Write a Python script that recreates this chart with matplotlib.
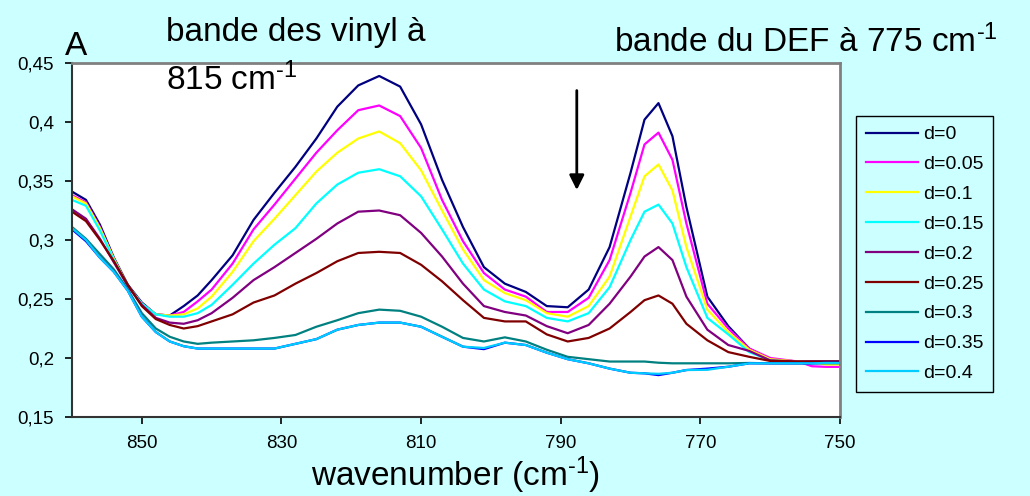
import matplotlib
matplotlib.use('Agg')
import matplotlib.pyplot as plt

plt.rcParams['font.family'] = ['Liberation Sans', 'DejaVu Sans']
plt.rcParams['mathtext.fontset'] = 'custom'
plt.rcParams['mathtext.rm'] = 'Liberation Sans'
plt.rcParams['mathtext.default'] = 'regular'

# wavenumber grid (cm-1)
wn = [860, 858, 856, 854, 852, 850, 848, 846, 844, 842, 840, 837, 834, 831, 828,
      825, 822, 819, 816, 813, 810, 807, 804, 801, 798, 795, 792, 789, 786, 783,
      780, 778, 776, 774, 772, 769, 766, 763, 760, 756, 754, 752, 750]

d_0 = [0.341, 0.334, 0.313, 0.285, 0.262, 0.247, 0.237, 0.236, 0.244, 0.253, 0.266, 0.287, 0.317, 0.340, 0.362,
       0.386, 0.413, 0.431, 0.439, 0.430, 0.398, 0.351, 0.311, 0.277, 0.263, 0.256, 0.244, 0.243, 0.258, 0.294,
       0.357, 0.402, 0.416, 0.388, 0.328, 0.252, 0.227, 0.208, 0.199, 0.197, 0.197, 0.197, 0.197]
d_005 = [0.338, 0.332, 0.311, 0.284, 0.261, 0.246, 0.237, 0.236, 0.239, 0.248, 0.258, 0.280, 0.309, 0.330, 0.352,
         0.374, 0.393, 0.410, 0.414, 0.405, 0.378, 0.334, 0.299, 0.272, 0.258, 0.252, 0.239, 0.239, 0.251, 0.283,
         0.340, 0.381, 0.391, 0.368, 0.314, 0.246, 0.225, 0.208, 0.200, 0.197, 0.193, 0.1925, 0.1925]
d_01 = [0.337, 0.331, 0.310, 0.284, 0.261, 0.246, 0.237, 0.236, 0.237, 0.242, 0.252, 0.273, 0.299, 0.318, 0.338,
        0.358, 0.374, 0.386, 0.392, 0.382, 0.359, 0.325, 0.292, 0.266, 0.255, 0.249, 0.238, 0.235, 0.244, 0.269,
        0.320, 0.354, 0.364, 0.342, 0.294, 0.241, 0.222, 0.207, 0.199, 0.197, 0.1965, 0.1945, 0.1945]
d_015 = [0.334, 0.329, 0.308, 0.283, 0.261, 0.246, 0.237, 0.235, 0.235, 0.238, 0.245, 0.262, 0.280, 0.296, 0.310,
         0.331, 0.347, 0.357, 0.360, 0.354, 0.337, 0.309, 0.280, 0.258, 0.248, 0.244, 0.234, 0.231, 0.238, 0.260,
         0.300, 0.324, 0.330, 0.314, 0.277, 0.234, 0.220, 0.205, 0.198, 0.1965, 0.196, 0.196, 0.196]
d_02 = [0.326, 0.318, 0.301, 0.281, 0.261, 0.245, 0.234, 0.230, 0.229, 0.232, 0.238, 0.251, 0.266, 0.277, 0.289,
        0.301, 0.314, 0.324, 0.325, 0.321, 0.306, 0.286, 0.263, 0.244, 0.239, 0.236, 0.227, 0.221, 0.228, 0.246,
        0.269, 0.286, 0.294, 0.283, 0.252, 0.224, 0.211, 0.206, 0.198, 0.197, 0.197, 0.197, 0.197]
d_025 = [0.324, 0.316, 0.300, 0.282, 0.262, 0.244, 0.233, 0.228, 0.225, 0.227, 0.231, 0.237, 0.247, 0.253, 0.263,
         0.272, 0.282, 0.289, 0.290, 0.289, 0.279, 0.265, 0.249, 0.234, 0.231, 0.231, 0.220, 0.214, 0.217, 0.225,
         0.239, 0.249, 0.253, 0.246, 0.229, 0.215, 0.205, 0.201, 0.1975, 0.197, 0.197, 0.197, 0.197]
d_03 = [0.311, 0.301, 0.288, 0.275, 0.258, 0.238, 0.225, 0.218, 0.214, 0.212, 0.213, 0.214, 0.215, 0.217, 0.2195,
        0.2265, 0.232, 0.238, 0.241, 0.240, 0.235, 0.2265, 0.217, 0.214, 0.2175, 0.214, 0.207, 0.201, 0.199, 0.197,
        0.197, 0.197, 0.196, 0.1955, 0.1955, 0.1955, 0.1955, 0.1958, 0.1955, 0.1955, 0.1955, 0.1955, 0.1955]
d_035 = [0.309, 0.299, 0.285, 0.273, 0.257, 0.235, 0.222, 0.214, 0.210, 0.208, 0.208, 0.208, 0.208, 0.208, 0.212,
         0.216, 0.224, 0.228, 0.230, 0.230, 0.2265, 0.218, 0.2096, 0.2075, 0.213, 0.211, 0.2045, 0.199, 0.1955, 0.191,
         0.1875, 0.187, 0.1855, 0.1875, 0.1898, 0.191, 0.1926, 0.1955, 0.1955, 0.1955, 0.1955, 0.196, 0.196]
d_04 = [0.310, 0.300, 0.285, 0.273, 0.257, 0.235, 0.222, 0.214, 0.210, 0.208, 0.208, 0.208, 0.208, 0.208, 0.212,
        0.216, 0.224, 0.228, 0.230, 0.230, 0.2265, 0.218, 0.2096, 0.2085, 0.213, 0.211, 0.2045, 0.199, 0.1955, 0.191,
        0.1875, 0.187, 0.1866, 0.1875, 0.1898, 0.190, 0.1926, 0.1955, 0.1955, 0.1955, 0.1955, 0.1958, 0.1958]

series = [d_0, d_005, d_01, d_015, d_02, d_025, d_03, d_035, d_04]
labels = ['d=0', 'd=0.05', 'd=0.1', 'd=0.15', 'd=0.2', 'd=0.25', 'd=0.3', 'd=0.35', 'd=0.4']
colors = ['#000080', '#FF00FF', '#FFFF00', '#00FFFF', '#800080', '#800000', '#008080', '#0000FF', '#00CCFF']

yticks = [0.15, 0.2, 0.25, 0.3, 0.35, 0.4, 0.45]
ytick_labels = ['0,15', '0,2', '0,25', '0,3', '0,35', '0,4', '0,45']
xticks = [850, 830, 810, 790, 770, 750]

bg = '#CCFFFF'
sup = r'$^{\text{-1}}$'
W, H = 1030, 496
fig = plt.figure(figsize=(W / 100, H / 100), dpi=100, facecolor=bg)
ax = fig.add_axes([72 / W, 1 - 417 / H, (840 - 72) / W, (417 - 63) / H])
ax.set_facecolor('white')

for vals, lab, col in zip(series, labels, colors):
    ax.plot(wn, vals, color=col, lw=1.6, label=lab)

ax.set_xlim(860, 750)
ax.set_ylim(0.15, 0.45)
ax.set_yticks(yticks)
ax.set_yticklabels(ytick_labels)
ax.set_xticks(xticks)
ax.tick_params(axis='both', direction='out', length=5, width=1.2, colors='black', labelsize=13.5)
ax.tick_params(axis='x', pad=8)
ax.tick_params(axis='y', pad=8)

for s in ['left', 'bottom']:
    ax.spines[s].set_color('#333333')
    ax.spines[s].set_linewidth(1.5)
for s in ['top', 'right']:
    ax.spines[s].set_color('#808080')
    ax.spines[s].set_linewidth(2)

# arrow showing the decrease of the DEF band
ax.annotate('', xy=(787.7, 0.340), xytext=(787.7, 0.429),
            arrowprops=dict(arrowstyle='-|>', color='black', lw=2, mutation_scale=22))

ax.set_xlabel('wavenumber (cm' + sup + ')', fontsize=24)
ax.xaxis.set_label_coords(0.5, -0.105)

fig.text(166 / W, 1 - 41 / H, 'bande des vinyl à', fontsize=24, va='baseline')
fig.text(166 / W, 1 - 90 / H, '815 cm' + sup, fontsize=24, va='baseline')
fig.text(614 / W, 1 - 52 / H, 'bande du DEF à 775 cm' + sup, fontsize=24, va='baseline')
fig.text(65 / W, 1 - 55 / H, 'A', fontsize=24, va='baseline')

leg = fig.legend(loc='upper left', bbox_to_anchor=(856 / W, 1 - 116 / H), fontsize=14,
                 frameon=True, fancybox=False, framealpha=1, edgecolor='black',
                 facecolor=bg, handlelength=2.7, handletextpad=0.25, labelspacing=0.63,
                 borderpad=0.5, borderaxespad=0)
leg.get_frame().set_linewidth(1)

fig.savefig('out.png', dpi=100, facecolor=bg)
